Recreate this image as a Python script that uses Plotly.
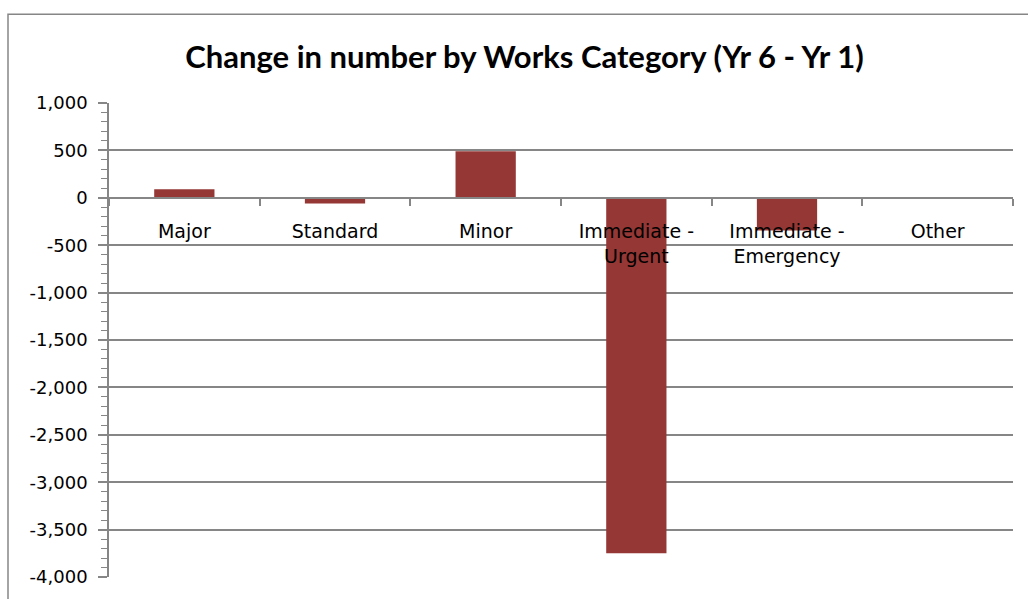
import plotly.graph_objects as go

categories = ["Major", "Standard", "Minor", "Immediate -<br>Urgent", "Immediate -<br>Emergency", "Other"]
values = [90, -60, 490, -3750, -345, 0]
y_min, y_max = -4000, 1000
y_ticks = list(range(y_min, y_max + 1, 500))
y_tick_labels = [f"{v:,}" for v in y_ticks]

BAR = "#953735"
GRID = "#868686"
FONT = "DejaVu Sans"

fig = go.Figure(go.Bar(x=categories, y=values, marker=dict(color=BAR, line=dict(width=0)), width=0.4))

zero_pos = (0 - y_min) / (y_max - y_min)

fig.update_layout(
    width=1028, height=599,
    margin=dict(l=109, r=15, t=103, b=20),
    paper_bgcolor="white", plot_bgcolor="white",
    showlegend=False,
    title=dict(text="<b>Change in number by Works Category (Yr 6 - Yr 1)</b>",
               x=0.5102, xanchor="center", xref="container",
               y=1 - 57 / 599, yanchor="middle", yref="container",
               font=dict(family="Lato", size=31, color="black")),
    font=dict(family=FONT, size=18, color="black"),
    xaxis=dict(anchor="free", position=zero_pos, showline=True, linecolor=GRID, linewidth=1.5,
               ticks="outside", tickson="boundaries", ticklen=7, tickcolor=GRID, tickwidth=1.5,
               showgrid=False, zeroline=False, ticklabelstandoff=17,
               tickfont=dict(family=FONT, size=19, color="black")),
    yaxis=dict(range=[y_min, y_max], tickvals=y_ticks, ticktext=y_tick_labels,
               showline=True, linecolor=GRID, linewidth=1.5,
               showgrid=True, gridcolor=GRID, gridwidth=1.5, zeroline=False,
               ticks="outside", ticklen=9, tickcolor=GRID, tickwidth=1.5,
               minor=dict(dtick=100, ticks="outside", ticklen=6, tickcolor=GRID, tickwidth=1, showgrid=False),
               ticklabelstandoff=7,
               tickfont=dict(family=FONT, size=18, color="black")),
    shapes=[dict(type="rect", xref="paper", yref="paper",
                 x0=(8 - 109) / 904, x1=1.1, y0=-0.2, y1=(579 - 14) / 476,
                 line=dict(color=GRID, width=1.5), fillcolor="rgba(0,0,0,0)", layer="below")],
)

fig.write_html("out.html")
